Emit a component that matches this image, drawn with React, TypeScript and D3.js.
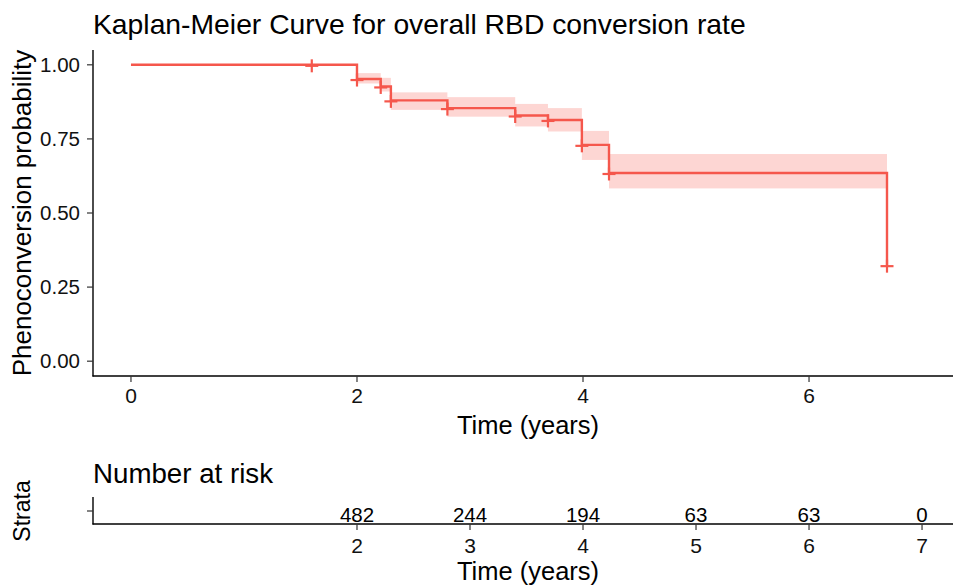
import * as d3 from "d3";
import React from "react";

// KM steps (time in years, survival after the step)
const stepTimes = [0, 2.0, 2.21, 2.3, 2.8, 3.4, 3.69, 3.99, 4.23, 6.69];
const survival = [1, 0.952, 0.927, 0.88, 0.854, 0.829, 0.814, 0.73, 0.635, 0.324];
// confidence band for the interval that starts at each step (last step has none)
const upperCI = [1, 0.972, 0.956, 0.907, 0.891, 0.868, 0.854, 0.777, 0.699];
const lowerCI = [1, 0.937, 0.91, 0.848, 0.825, 0.792, 0.775, 0.679, 0.583];
const censorTimes = [1.6, 2.0, 2.21, 2.3, 2.8, 3.4, 3.69, 3.99, 4.23, 6.69];

const xTicksTop = [0, 2, 4, 6];
const yTicks = [0, 0.25, 0.5, 0.75, 1];
const riskTimes = [2, 3, 4, 5, 6, 7];
const riskCounts = ["482", "244", "194", "63", "63", "0"];

const W = 953, H = 588;
const FONT = "'Liberation Sans', Arial, sans-serif";
const RED = "#F5574C";

export default function App() {
  const x = d3.scaleLinear().domain([-0.336, 7.274]).range([93, 953]);
  const y = d3.scaleLinear().domain([-0.05, 1.05]).range([376, 50]);

  const line = d3.line<number>()
    .x((d, i) => x(stepTimes[i]))
    .y((d) => y(d))
    .curve(d3.curveStepAfter);

  const survAt = (t: number) => survival[d3.bisectRight(stepTimes, t) - 1];

  const riskY = 524;

  return (
    <svg width={W} height={H} style={{ position: "fixed", left: 0, top: 0, background: "#fff" }}
      fontFamily={FONT}>
      <text x={93} y={34} fontSize={28.3} fill="#000">Kaplan-Meier Curve for overall RBD conversion rate</text>

      {/* confidence band */}
      {upperCI.map((u, i) => (
        <rect key={i} x={x(stepTimes[i])} width={x(stepTimes[i + 1]) - x(stepTimes[i])}
          y={y(u)} height={y(lowerCI[i]) - y(u)} fill="#F8766D" fillOpacity={0.3} />
      ))}
      <path d={line(survival) || ""} fill="none" stroke={RED} strokeWidth={2.4} />
      {censorTimes.map((t, i) => {
        const cx = x(t), cy = y(survAt(t)) + 1;
        return (
          <g key={i} stroke={RED} strokeWidth={2.2}>
            <line x1={cx - 6.5} x2={cx + 6.5} y1={cy} y2={cy} />
            <line x1={cx} x2={cx} y1={cy - 6.5} y2={cy + 6.5} />
          </g>
        );
      })}

      {/* axes */}
      <line x1={93} x2={93} y1={50} y2={376.5} stroke="#000" strokeWidth={1.4} />
      <line x1={92.5} x2={953} y1={376} y2={376} stroke="#000" strokeWidth={1.4} />
      {yTicks.map((v) => (
        <g key={v}>
          <line x1={87} x2={93} y1={y(v)} y2={y(v)} stroke="#333" strokeWidth={1.2} />
          <text x={80} y={y(v)} dy="0.35em" textAnchor="end" fontSize={20.5} fill="#111">{v.toFixed(2)}</text>
        </g>
      ))}
      {xTicksTop.map((v) => (
        <g key={v}>
          <line x1={x(v)} x2={x(v)} y1={376} y2={382} stroke="#333" strokeWidth={1.2} />
          <text x={x(v)} y={403} textAnchor="middle" fontSize={21} fill="#111">{v}</text>
        </g>
      ))}
      <text x={528} y={434} textAnchor="middle" fontSize={25.5} fill="#000">Time (years)</text>
      <text transform={`translate(31,213) rotate(-90)`} textAnchor="middle" fontSize={26} fill="#000">Phenoconversion probability</text>

      {/* risk table */}
      <text x={93} y={483} fontSize={27.7} fill="#000">Number at risk</text>
      <text transform={`translate(30,511) rotate(-90)`} textAnchor="middle" fontSize={23} fill="#000">Strata</text>
      <line x1={93} x2={93} y1={497} y2={524.5} stroke="#000" strokeWidth={1.4} />
      <line x1={92.5} x2={953} y1={riskY} y2={riskY} stroke="#000" strokeWidth={1.4} />
      <line x1={87} x2={93} y1={511} y2={511} stroke="#333" strokeWidth={1.2} />
      {riskTimes.map((t, i) => (
        <g key={t}>
          <text x={x(t)} y={521.5} textAnchor="middle" fontSize={20.5} fill="#000">{riskCounts[i]}</text>
          <line x1={x(t)} x2={x(t)} y1={riskY} y2={riskY + 6} stroke="#333" strokeWidth={1.2} />
          <text x={x(t)} y={553} textAnchor="middle" fontSize={21} fill="#111">{t}</text>
        </g>
      ))}
      <text x={528} y={580} textAnchor="middle" fontSize={25.5} fill="#000">Time (years)</text>
    </svg>
  );
}
